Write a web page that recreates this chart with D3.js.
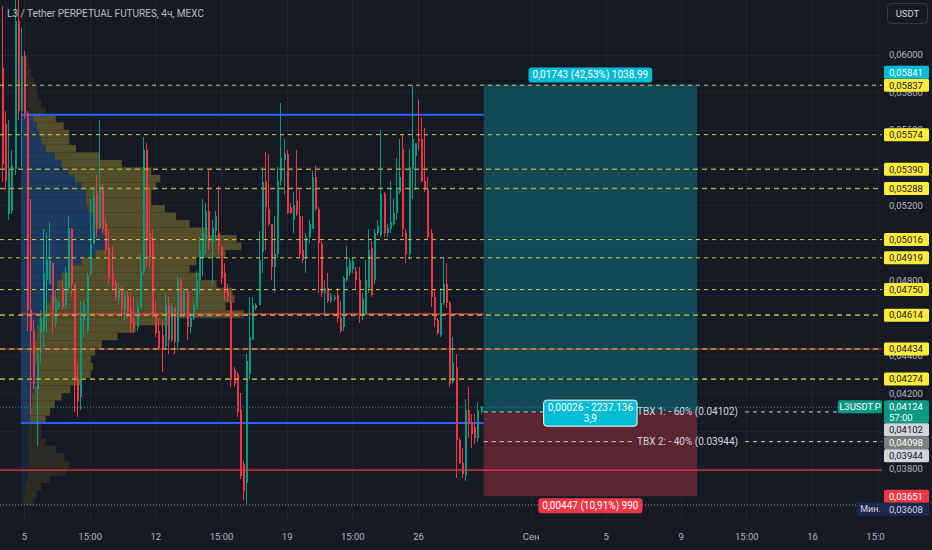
<!DOCTYPE html>
<html>
<head>
<meta charset="utf-8">
<script src="https://cdn.jsdelivr.net/npm/d3@7"></script>
<style>
  html, body { margin: 0; padding: 0; background: #161a25; overflow: hidden; }
  svg { display: block; font-family: Roboto, "Noto Sans", sans-serif; }
</style>
</head>
<body>
<svg id="chart" width="932" height="550"></svg>
<script>
// ---- data ----
const title = "L3 / Tether PERPETUAL FUTURES, 4ч, MEXC";
const firstCandle = "2024-08-03T20:00:00Z";   // 4h candles, one after another
// [open, high, low, close]
const candles = [
  [0.0593,0.0626,0.0532,0.0542],[0.0563,0.0570,0.0528,0.0533],[0.0515,0.0565,0.0512,0.0539],[0.0517,0.0549,0.0515,0.0541],
  [0.0539,0.0629,0.0536,0.0618],[0.0618,0.0629,0.0565,0.0570],[0.0570,0.0614,0.0540,0.0599],[0.0599,0.0602,0.0566,0.0569],
  [0.0569,0.0570,0.0453,0.0464],[0.0464,0.0523,0.0409,0.0453],[0.0453,0.0459,0.0422,0.0425],[0.0422,0.0443,0.0392,0.0441],
  [0.0452,0.0464,0.0436,0.0460],[0.0453,0.0507,0.0444,0.0484],[0.0480,0.0505,0.0452,0.0491],[0.0478,0.0511,0.0478,0.0491],
  [0.0489,0.0489,0.0452,0.0464],[0.0457,0.0475,0.0455,0.0470],[0.0466,0.0469,0.0464,0.0468],[0.0476,0.0480,0.0464,0.0466],
  [0.0467,0.0487,0.0465,0.0484],[0.0476,0.0514,0.0473,0.0508],[0.0507,0.0508,0.0471,0.0478],[0.0478,0.0478,0.0410,0.0427],
  [0.0428,0.0436,0.0407,0.0416],[0.0418,0.0469,0.0411,0.0460],[0.0459,0.0469,0.0450,0.0467],[0.0453,0.0484,0.0452,0.0482],
  [0.0484,0.0523,0.0482,0.0499],[0.0499,0.0530,0.0499,0.0525],[0.0526,0.0536,0.0503,0.0507],[0.0508,0.0565,0.0507,0.0530],
  [0.0528,0.0531,0.0505,0.0507],[0.0510,0.0512,0.0494,0.0496],[0.0497,0.0507,0.0478,0.0481],[0.0484,0.0498,0.0475,0.0477],
  [0.0479,0.0480,0.0469,0.0471],[0.0470,0.0478,0.0467,0.0476],[0.0476,0.0477,0.0462,0.0465],[0.0464,0.0475,0.0459,0.0472],
  [0.0472,0.0474,0.0460,0.0463],[0.0465,0.0473,0.0452,0.0457],[0.0460,0.0471,0.0452,0.0454],[0.0455,0.0469,0.0453,0.0466],
  [0.0466,0.0494,0.0465,0.0485],[0.0485,0.0556,0.0483,0.0549],[0.0549,0.0553,0.0487,0.0501],[0.0505,0.0529,0.0487,0.0492],
  [0.0501,0.0507,0.0460,0.0462],[0.0462,0.0469,0.0450,0.0452],[0.0453,0.0460,0.0443,0.0444],[0.0451,0.0459,0.0431,0.0444],
  [0.0445,0.0473,0.0443,0.0467],[0.0467,0.0471,0.0441,0.0448],[0.0448,0.0468,0.0447,0.0465],[0.0465,0.0466,0.0441,0.0447],
  [0.0447,0.0482,0.0443,0.0480],[0.0480,0.0481,0.0460,0.0462],[0.0462,0.0476,0.0460,0.0474],[0.0474,0.0475,0.0448,0.0455],
  [0.0455,0.0462,0.0452,0.0460],[0.0460,0.0469,0.0459,0.0467],[0.0466,0.0485,0.0464,0.0480],[0.0480,0.0503,0.0473,0.0496],
  [0.0492,0.0523,0.0482,0.0505],[0.0501,0.0521,0.0494,0.0517],[0.0517,0.0539,0.0496,0.0500],[0.0500,0.0512,0.0478,0.0508],
  [0.0506,0.0517,0.0501,0.0514],[0.0505,0.0530,0.0494,0.0498],[0.0498,0.0498,0.0478,0.0481],[0.0484,0.0489,0.0469,0.0473],
  [0.0475,0.0478,0.0469,0.0471],[0.0469,0.0473,0.0423,0.0427],[0.0432,0.0434,0.0423,0.0425],[0.0430,0.0431,0.0407,0.0410],
  [0.0411,0.0420,0.0374,0.0376],[0.0382,0.0384,0.0363,0.0368],[0.0372,0.0441,0.03608,0.0437],[0.0430,0.0471,0.0427,0.0450],
  [0.0448,0.0471,0.0448,0.0467],[0.0465,0.0468,0.0464,0.0467],[0.0467,0.0506,0.0467,0.0491],[0.0495,0.0540,0.0484,0.0532],
  [0.0533,0.0548,0.0496,0.0519],[0.0518,0.0547,0.0509,0.0510],[0.0510,0.0510,0.0480,0.0487],[0.0487,0.0514,0.0473,0.0494],
  [0.0494,0.0540,0.0492,0.0533],[0.0533,0.0574,0.0530,0.0545],[0.0544,0.0555,0.0526,0.0547],[0.0547,0.0549,0.0515,0.0516],
  [0.0519,0.0521,0.0515,0.0516],[0.0512,0.0527,0.0505,0.0520],[0.0522,0.0549,0.0514,0.0515],[0.0514,0.0528,0.0492,0.0494],
  [0.0496,0.0514,0.0489,0.0491],[0.0492,0.0505,0.0484,0.0503],[0.0503,0.0512,0.0500,0.0510],[0.0507,0.0538,0.0507,0.0535],
  [0.0535,0.0541,0.0517,0.0518],[0.0518,0.0519,0.0473,0.0500],[0.0499,0.0501,0.0471,0.0473],[0.0473,0.0480,0.0462,0.0476],
  [0.0476,0.0484,0.0468,0.0469],[0.0469,0.0473,0.0468,0.0472],[0.0470,0.0472,0.0469,0.0471],[0.0472,0.0476,0.0457,0.0460],
  [0.0460,0.0469,0.0452,0.0453],[0.0455,0.0482,0.0453,0.0481],[0.0480,0.0498,0.0479,0.0487],[0.0484,0.0492,0.0482,0.0490],
  [0.0486,0.0492,0.0484,0.0490],[0.0485,0.0487,0.0475,0.0480],[0.0480,0.0487,0.0457,0.0462],[0.0461,0.0473,0.0459,0.0470],
  [0.0462,0.0491,0.0462,0.0480],[0.0476,0.0507,0.0473,0.0496],[0.0497,0.0501,0.0471,0.0472],[0.0480,0.0507,0.0478,0.0505],
  [0.0505,0.0512,0.0504,0.0509],[0.0504,0.0560,0.0503,0.0526],[0.0526,0.0527,0.0503,0.0505],[0.0505,0.0510,0.0503,0.0508],
  [0.0507,0.0533,0.0505,0.0511],[0.0510,0.0523,0.0509,0.0516],[0.0516,0.0545,0.0512,0.0528],[0.0527,0.0555,0.0526,0.0535],
  [0.0550,0.0558,0.0503,0.0507],[0.0505,0.0507,0.0489,0.0494],[0.0494,0.0550,0.0491,0.0540],[0.0539,0.0584,0.0523,0.0555],
  [0.0546,0.0553,0.0528,0.0553],[0.0555,0.0576,0.0549,0.0554],[0.0555,0.0567,0.0532,0.0533],[0.0533,0.0561,0.0527,0.0528],
  [0.0528,0.0535,0.0502,0.0503],[0.0505,0.0507,0.0466,0.0471],[0.0471,0.0475,0.0455,0.0459],[0.0459,0.0460,0.0451,0.0452],
  [0.0451,0.0476,0.0450,0.0468],[0.0468,0.0492,0.0467,0.0478],[0.0478,0.0489,0.0465,0.0468],[0.0468,0.0469,0.0423,0.0425],
  [0.0426,0.0450,0.0425,0.0436],[0.0434,0.0441,0.0375,0.0395],[0.0395,0.0396,0.0382,0.0383],[0.0383,0.0391,0.0375,0.0377],
  [0.0376,0.0417,0.0373,0.0411],[0.0411,0.0423,0.0396,0.0404],[0.0404,0.0409,0.0391,0.0398],[0.0402,0.0409,0.0393,0.0396],
  [0.0396,0.0415,0.0394,0.0411],[0.0410,0.0413,0.0409,0.04124]
];

// volume profile rows (row low price), up volume (blue) and down volume (yellow)
const profileStart = "2024-08-04T20:00:00Z";
const profileEnd = "2024-08-29T12:00:00Z";
const profileTop = 0.0600;
const profileRows = [0.0596,0.0592,0.0588,0.0584,0.0580,0.0576,0.0572,0.0568,0.0564,0.0560,0.0556,0.0552,0.0548,0.0544,0.0540,
  0.0536,0.0532,0.0528,0.0524,0.0520,0.0516,0.0512,0.0508,0.0504,0.0500,0.0496,0.0492,0.0488,0.0484,0.0480,0.0476,0.0472,0.0468,
  0.0464,0.0460,0.0456,0.0452,0.0448,0.0444,0.0440,0.0436,0.0432,0.0428,0.0424,0.0420,0.0416,0.0412,0.0408,0.0404,0.0400,0.0396,
  0.0392,0.0388,0.0384,0.0380,0.0376,0.0372,0.0368,0.0364,0.0360];
const profileUp = [1,1.5,2,2,3,3,3,4,5.5,7,8,9,11,15,18,21,24,27,29,29,30,32,33,36,38,38,33,27,22,18,16,16,13,11,10,8,7,7,6,5,6,7,7,7,
  6,5,5,4,4,3.5,3,3,3.5,3.5,3.5,3,3,2,2,1.5];
const profileDown = [2,2,2.5,4,4,4.5,6,7,10,12,13.5,12.5,13.5,20,27,37,38,33,29,29,34,37,42,47,58,60,58,51,53,62,71,78,82,80,89,58,
  44,36,30,28,25,25,24,20,16,13,10,9,7,5.5,6,8,12,16,18,17,10,7,5,4];
const vaHigh = 0.0568, vaLow = 0.0404;

// drawn levels
const levelPrices = [0.05837, 0.05574, 0.05390, 0.05288, 0.05016, 0.04919, 0.04750, 0.04614, 0.04434, 0.04274];
const levelKinds = ["bright","bright","olive","olive","bright","bright","bright","olive","olive","olive"];
const redLines = [0.04434, 0.03790];

// long position tool
const posStart = "2024-08-29T12:00:00Z", posEnd = "2024-09-09T21:00:00Z";
const posEntry = 0.04098, posTarget = 0.05841, posStop = 0.03651;
const posTopText = "0,01743 (42,53%) 1038.99";
const posMidText = ["0,00026 - 2237.136", "3,9"];
const posBotText = "0,00447 (10,91%) 990";
const tbxPrices = [0.04102, 0.03944];
const tbxTexts = ["TBX 1: - 60% (0.04102)", "TBX 2: - 40% (0.03944)"];

const lastPrice = 0.04124, lastTimer = "57:00", symbol = "L3USDT.P";
const minPrice = 0.03608, minText = "Мин.";

// axes
const priceTicks = [0.060,0.058,0.056,0.054,0.052,0.050,0.048,0.046,0.044,0.042,0.040,0.038,0.036];
const timeTicks = ["2024-08-05T00:00:00Z","2024-08-08T12:00:00Z","2024-08-12T00:00:00Z","2024-08-15T12:00:00Z",
  "2024-08-19T00:00:00Z","2024-08-22T12:00:00Z","2024-08-26T00:00:00Z","2024-09-01T00:00:00Z","2024-09-05T00:00:00Z",
  "2024-09-09T00:00:00Z","2024-09-12T12:00:00Z","2024-09-16T00:00:00Z","2024-09-19T12:00:00Z"];
const timeLabels = ["5","15:00","12","15:00","19","15:00","26","Сен","5","9","15:00","16","15:00"];

// ---- layout ----
const plotR = 882, plotB = 522;
const UP = "#089981", DOWN = "#f23645";
const fmt = v => d3.format(".5f")(v).replace(".", ",");

const svg = d3.select("#chart");
svg.append("rect").attr("width", 932).attr("height", 550).attr("fill", "#161a25");

const x = d3.scaleUtc()
  .domain([new Date("2024-08-05T00:00:00Z"), new Date("2024-09-16T00:00:00Z")])
  .range([24, 812]);
const y = d3.scaleLinear().domain([0.038, 0.060]).range([468.2, 54.6]);

svg.append("clipPath").attr("id", "plot").append("rect").attr("width", plotR).attr("height", plotB);
const plot = svg.append("g").attr("clip-path", "url(#plot)");

// grid
const grid = plot.append("g").attr("stroke", "#1f232f").attr("shape-rendering", "crispEdges");
grid.selectAll(".gv").data(timeTicks).join("line")
  .attr("x1", d => Math.round(x(new Date(d))) + 0.5).attr("x2", d => Math.round(x(new Date(d))) + 0.5)
  .attr("y1", 0).attr("y2", plotB);
grid.selectAll(".gh").data(priceTicks).join("line")
  .attr("x1", 0).attr("x2", plotR)
  .attr("y1", d => Math.round(y(d)) + 0.5).attr("y2", d => Math.round(y(d)) + 0.5);

// position boxes
const pX0 = x(new Date(posStart)), pX1 = x(new Date(posEnd));
plot.append("rect").attr("x", pX0).attr("width", pX1 - pX0)
  .attr("y", y(posTarget)).attr("height", y(posEntry) - y(posTarget)).attr("fill", "#134a56");
plot.append("rect").attr("x", pX0).attr("width", pX1 - pX0)
  .attr("y", y(posEntry)).attr("height", y(posStop) - y(posEntry)).attr("fill", "#5b2631");

// volume profile
const vx = d3.scaleLinear().domain([0, 100]).range([0, 225]);
const vX0 = x(new Date(profileStart)), vX1 = x(new Date(profileEnd));
const rows = profileRows.map((low, i) => {
  const high = i === 0 ? profileTop : profileRows[i - 1];
  return { low, high, up: profileUp[i], down: profileDown[i],
           inVA: low >= vaLow - 1e-9 && high <= vaHigh + 1e-9 };
});
const prof = plot.append("g");
prof.selectAll(".pu").data(rows).join("rect")
  .attr("x", vX0).attr("y", d => y(d.high)).attr("height", d => y(d.low) - y(d.high))
  .attr("width", d => vx(d.up))
  .attr("fill", d => d.inVA ? "#1d3b5f" : "#1a2536");
prof.selectAll(".pd").data(rows).join("rect")
  .attr("x", d => vX0 + vx(d.up)).attr("y", d => y(d.high)).attr("height", d => y(d.low) - y(d.high))
  .attr("width", d => vx(d.down))
  .attr("fill", d => d.inVA ? "#554e2a" : "#2d2c24");
const poc = rows.reduce((a, b) => (b.up + b.down > a.up + a.down ? b : a));
[vaHigh, vaLow].forEach(p => {
  plot.append("line").attr("x1", vX0).attr("x2", vX1).attr("y1", y(p)).attr("y2", y(p))
    .attr("stroke", "#2962ff").attr("stroke-width", 2);
});
plot.append("line").attr("x1", vX0).attr("x2", vX1)
  .attr("y1", y((poc.low + poc.high) / 2)).attr("y2", y((poc.low + poc.high) / 2))
  .attr("stroke", DOWN).attr("stroke-width", 1.5);

// candles
const t0 = new Date(firstCandle);
const bars = candles.map((d, i) => ({ t: d3.utcHour.offset(t0, 4 * i), o: d[0], h: d[1], l: d[2], c: d[3] }));
const cg = plot.append("g").attr("shape-rendering", "crispEdges");
cg.selectAll(".wick").data(bars).join("line")
  .attr("x1", d => Math.round(x(d.t)) + 0.5).attr("x2", d => Math.round(x(d.t)) + 0.5)
  .attr("y1", d => y(d.h)).attr("y2", d => y(d.l))
  .attr("stroke", d => d.c >= d.o ? UP : DOWN);
cg.selectAll(".body").data(bars).join("rect")
  .attr("x", d => Math.round(x(d.t)) - 0.5).attr("width", 2)
  .attr("y", d => y(Math.max(d.o, d.c)))
  .attr("height", d => Math.max(1, Math.abs(y(d.o) - y(d.c))))
  .attr("fill", d => d.c >= d.o ? UP : DOWN);

// horizontal lines
plot.selectAll(".red").data(redLines).join("line")
  .attr("x1", 0).attr("x2", plotR).attr("y1", d => y(d)).attr("y2", d => y(d))
  .attr("stroke", DOWN).attr("stroke-width", 1.2);
plot.selectAll(".lvl").data(levelPrices).join("line")
  .attr("x1", 0).attr("x2", plotR).attr("y1", d => y(d)).attr("y2", d => y(d))
  .attr("stroke", (d, i) => levelKinds[i] === "bright" ? "#dcc54a" : "#a2a43e")
  .attr("stroke-width", (d, i) => levelKinds[i] === "bright" ? 1 : 1.6)
  .attr("stroke-dasharray", (d, i) => levelKinds[i] === "bright" ? "4,4" : "5,4");

plot.append("line").attr("x1", 0).attr("x2", 838).attr("y1", y(lastPrice)).attr("y2", y(lastPrice))
  .attr("stroke", UP).attr("stroke-dasharray", "1,2");
plot.append("line").attr("x1", 0).attr("x2", 857).attr("y1", y(minPrice) + 0.5).attr("y2", y(minPrice) + 0.5)
  .attr("stroke", "#8a8e99").attr("stroke-dasharray", "1,2");

// take-profit lines with text
const tbxTextX = 637;
tbxPrices.forEach((p, i) => {
  const t = plot.append("text").attr("x", tbxTextX).attr("y", y(p)).attr("dy", "0.35em")
    .attr("fill", "#d1d4dc").attr("font-size", 10).text(tbxTexts[i]);
  const tw = t.node().getComputedTextLength();
  const end = i === 0 ? 838 : plotR;
  [[pX0, tbxTextX - 5], [tbxTextX + tw + 7, end]].forEach(([a, b]) => {
    plot.insert("line", "text").attr("x1", a).attr("x2", b).attr("y1", y(p) + 0.5).attr("y2", y(p) + 0.5)
      .attr("stroke", "#c9ccd4").attr("stroke-dasharray", "4,4");
  });
});

// position labels
function pill(cx, yTop, lines, bg, border) {
  const g = svg.append("g");
  const r = g.append("rect").attr("fill", bg).attr("rx", 3);
  if (border) r.attr("stroke", border).attr("stroke-width", 1);
  const txt = lines.map((s, i) => g.append("text").attr("x", cx).attr("y", yTop + 11 + i * 11)
    .attr("text-anchor", "middle").attr("fill", "#ffffff").attr("font-size", 10).text(s));
  const w = d3.max(txt, t => t.node().getComputedTextLength()) + 8;
  r.attr("x", cx - w / 2).attr("y", yTop).attr("width", w).attr("height", 4 + lines.length * 11);
}
const pCx = (pX0 + pX1) / 2;
pill(pCx, y(posTarget) - 17, [posTopText], "#00bcd4");
pill(pCx, y(posStop) + 2, [posBotText], DOWN);
pill(pCx, y(posEntry) - 12, posMidText, "#00bcd4", "#ffffff");

// price tags on the axis (placed first so covered tick labels can be dropped)
const axisX = 889;
const tagH = 13;
const tags = [];
levelPrices.forEach(p => tags.push({ p, bg: "#ffeb3b", fg: "#131722", lines: [fmt(p)], fixed: true }));
tags.push({ p: lastPrice, bg: UP, fg: "#ffffff", lines: [fmt(lastPrice), lastTimer], fixed: true, h: 23, off: 7 });
tags.push({ p: posStop, bg: DOWN, fg: "#ffffff", lines: [fmt(posStop)], fixed: true });
tags.push({ p: posTarget, bg: "#00bcd4", fg: "#ffffff", lines: [fmt(posTarget)], dir: -1 });
tags.push({ p: tbxPrices[0], bg: "#d1d4dc", fg: "#131722", lines: [fmt(tbxPrices[0])], dir: 1 });
tags.push({ p: posEntry, bg: "#78837f", fg: "#ffffff", lines: [fmt(posEntry)], dir: 1 });
tags.push({ p: tbxPrices[1], bg: "#d1d4dc", fg: "#131722", lines: [fmt(tbxPrices[1])], dir: 1 });
tags.push({ p: minPrice, bg: "#1c2a4f", fg: "#d1d4dc", lines: [fmt(minPrice)], dir: 1, side: minText });

const placed = [];
tags.filter(t => t.fixed).forEach(t => {
  t.h = t.h || tagH;
  t.top = y(t.p) - (t.off || t.h / 2);
  placed.push(t);
});
tags.filter(t => !t.fixed).forEach(t => {
  t.h = tagH;
  t.top = y(t.p) - t.h / 2;
  let moved = true;
  while (moved) {
    moved = false;
    for (const b of placed) {
      if (t.top < b.top + b.h - 0.01 && t.top + t.h > b.top + 0.01) {
        t.top = t.dir < 0 ? b.top - t.h : b.top + b.h;
        moved = true;
      }
    }
  }
  placed.push(t);
});
const covered = v => placed.some(t => t.top <= y(v) - 2 && t.top + t.h >= y(v) + 2);

// price axis
const ya = svg.append("g").attr("transform", `translate(${axisX},0)`)
  .call(d3.axisRight(y).tickValues(priceTicks.filter(v => !covered(v))).tickSize(0).tickPadding(0).tickFormat(fmt));
ya.select(".domain").remove();
ya.selectAll("text").attr("fill", "#b2b5be").attr("font-size", 9.5).attr("font-family", "Roboto, 'Noto Sans', sans-serif");

// time axis
svg.append("clipPath").attr("id", "xclip").append("rect").attr("x", 0).attr("y", -20).attr("width", 885).attr("height", 40);
const xa = svg.append("g").attr("transform", "translate(0,533)")
  .attr("clip-path", "url(#xclip)")
  .call(d3.axisBottom(x).tickValues(timeTicks.map(d => new Date(d))).tickSize(0).tickPadding(0)
    .tickFormat((d, i) => timeLabels[i]));
xa.select(".domain").remove();
xa.selectAll("text").attr("fill", "#b2b5be").attr("font-size", 9.5).attr("font-family", "Roboto, 'Noto Sans', sans-serif");

const tg = svg.append("g").attr("font-size", 9.5);
placed.forEach(t => {
  tg.append("rect").attr("x", 884).attr("y", t.top).attr("width", 45).attr("height", t.h).attr("rx", 1.5).attr("fill", t.bg);
  t.lines.forEach((s, i) => tg.append("text").attr("x", axisX).attr("y", t.top + 6.5 + i * 11).attr("dy", "0.35em")
    .attr("fill", t.fg).text(s));
  if (t.side) {
    tg.append("rect").attr("x", 857).attr("y", t.top).attr("width", 27).attr("height", t.h).attr("fill", t.bg);
    tg.append("text").attr("x", 870.5).attr("y", t.top + 6.5).attr("dy", "0.35em").attr("text-anchor", "middle")
      .attr("fill", t.fg).attr("font-size", 9).text(t.side);
  }
});
// symbol tag
const lastTop = y(lastPrice) - 7;
tg.append("rect").attr("x", 838).attr("y", lastTop).attr("width", 44).attr("height", 13).attr("rx", 1.5).attr("fill", UP);
tg.append("text").attr("x", 860).attr("y", lastTop + 6.5).attr("dy", "0.35em").attr("text-anchor", "middle")
  .attr("fill", "#ffffff").text(symbol);

// title and currency button
svg.append("text").attr("x", 7).attr("y", 17).attr("fill", "#b8bec2").attr("font-size", 10).text(title);
svg.append("rect").attr("x", 887.5).attr("y", 3.5).attr("width", 40).attr("height", 20).attr("rx", 4)
  .attr("fill", "#161a25").attr("stroke", "#363a45");
svg.append("text").attr("x", 907.5).attr("y", 13.5).attr("dy", "0.35em").attr("text-anchor", "middle")
  .attr("fill", "#d1d4dc").attr("font-size", 9.5).text("USDT");
</script>
</body>
</html>
